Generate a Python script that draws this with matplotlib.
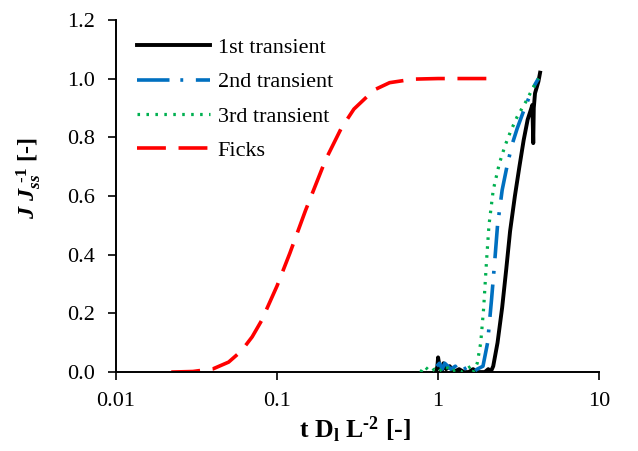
import matplotlib
matplotlib.use("Agg")
import matplotlib.pyplot as plt

plt.rcParams['font.family'] = ['Liberation Serif', 'DejaVu Serif']
plt.rcParams['mathtext.fontset'] = 'custom'
plt.rcParams['mathtext.rm'] = 'Liberation Serif:bold'
plt.rcParams['mathtext.it'] = 'Liberation Serif:bold:italic'
plt.rcParams['mathtext.bf'] = 'Liberation Serif:bold'
plt.rcParams['mathtext.bfit'] = 'Liberation Serif:bold:italic'

# 1st transient
x1 = [0.97, 0.99, 1.0, 1.02, 1.05, 1.08, 1.12, 1.18, 1.25, 1.35, 1.45, 1.55, 1.65, 1.75, 1.85,
      1.95, 2.05, 2.12, 2.2, 2.34, 2.5, 2.65, 2.8, 3.0, 3.2, 3.4, 3.6, 3.75, 3.85, 3.9, 3.93,
      4.0, 4.1, 4.2, 4.3]
y1 = [0.0, 0.02, 0.05, 0.02, 0.0, 0.03, 0.01, 0.02, 0.0, 0.01, 0.0, 0.0, 0.01, 0.0, 0.0,
      0.0, 0.01, 0.0, 0.02, 0.1, 0.22, 0.35, 0.48, 0.60, 0.70, 0.79, 0.86, 0.89, 0.91, 0.78, 0.90,
      0.95, 0.97, 0.99, 1.02]

# 2nd transient
x2 = [0.98, 1.02, 1.06, 1.1, 1.15, 1.2, 1.28, 1.35, 1.45, 1.55, 1.65, 1.75, 1.9, 2.03, 2.15,
      2.25, 2.34, 2.5, 2.7, 2.9, 3.1, 3.4, 3.7, 4.0, 4.2]
y2 = [0.02, 0.03, 0.01, 0.03, 0.02, 0.01, 0.02, 0.0, 0.01, 0.02, 0.0, 0.01, 0.02, 0.1, 0.25,
      0.38, 0.5, 0.62, 0.71, 0.78, 0.83, 0.89, 0.94, 0.98, 1.0]

# 3rd transient
x3 = [0.78, 0.82, 0.86, 0.9, 0.95, 1.0, 1.05, 1.12, 1.2, 1.3, 1.4, 1.5, 1.6, 1.65, 1.75, 1.84,
      1.92, 2.0, 2.07, 2.2, 2.4, 2.6, 2.82, 3.1, 3.5, 3.9, 4.2]
y3 = [0.0, 0.02, 0.01, 0.0, 0.01, 0.0, 0.01, 0.02, 0.0, 0.01, 0.0, 0.01, 0.02, 0.0, 0.03, 0.1,
      0.22, 0.38, 0.5, 0.62, 0.71, 0.77, 0.82, 0.87, 0.92, 0.97, 1.0]

# Ficks
xf = [0.022, 0.03, 0.04, 0.05, 0.06, 0.07, 0.08, 0.1, 0.12, 0.15, 0.2, 0.25, 0.3, 0.4, 0.5,
      0.7, 1.0, 1.5, 2.0]
yf = [0.0, 0.002, 0.011, 0.034, 0.072, 0.12, 0.175, 0.294, 0.405, 0.55, 0.723, 0.83, 0.896,
      0.961, 0.986, 0.998, 1.0, 1.0, 1.0]

labels = ['1st transient', '2nd transient', '3rd transient', 'Ficks']
xticks = [0.01, 0.1, 1, 10]
xticklabels = ['0.01', '0.1', '1', '10']
yticks = [0.0, 0.2, 0.4, 0.6, 0.8, 1.0, 1.2]
yticklabels = ['0.0', '0.2', '0.4', '0.6', '0.8', '1.0', '1.2']

fig = plt.figure(figsize=(6.38, 4.51), dpi=100)
ax = fig.add_axes([0.182, 0.175, 0.757, 0.781])

ax.plot(x1, y1, color='black', lw=2.8, label=labels[0], zorder=3)
ax.plot(x2, y2, color='#0070C0', lw=2.6, linestyle=(0, (9, 3, 0.8, 3.5)), label=labels[1], zorder=4)
ax.plot(x3, y3, color='#00B050', lw=2.3, linestyle=(0, (0.8, 2.0)), label=labels[2], zorder=5)
ax.plot(xf, yf, color='#FF0000', lw=2.6, linestyle=(0, (8, 3.5)), label=labels[3], zorder=2)

ax.set_xscale('log')
ax.set_xlim(0.01, 10)
ax.set_ylim(0, 1.2)
ax.set_xticks(xticks)
ax.set_xticklabels(xticklabels)
ax.xaxis.set_minor_locator(matplotlib.ticker.NullLocator())
ax.set_yticks(yticks)
ax.set_yticklabels(yticklabels)
ax.tick_params(axis='both', direction='out', length=6, width=1.2, labelsize=16)
ax.tick_params(axis='y', pad=9)
ax.tick_params(axis='x', pad=8)

for s in ['top', 'right']:
    ax.spines[s].set_visible(False)
for s in ['left', 'bottom']:
    ax.spines[s].set_linewidth(1.4)

ax.set_xlabel(r'$\mathrm{t\ D}_{\mathrm{l}}\mathrm{\ L}^{\text{-2}}\ \mathrm{[\text{-}]}$', fontsize=18.5)
ax.set_ylabel(r'$J\ J_{ss}^{\ \text{-}1}\ \mathrm{[\text{-}]}$', fontsize=17.5)
ax.xaxis.set_label_coords(0.495, -0.123)
ax.yaxis.set_label_coords(-0.152, 0.55)

ax.legend(loc='upper left', frameon=False, fontsize=16, handlelength=3.3,
          labelspacing=0.62, handletextpad=0.32, borderaxespad=0.0,
          bbox_to_anchor=(0.025, 0.975))

fig.savefig('out.png', dpi=100)
